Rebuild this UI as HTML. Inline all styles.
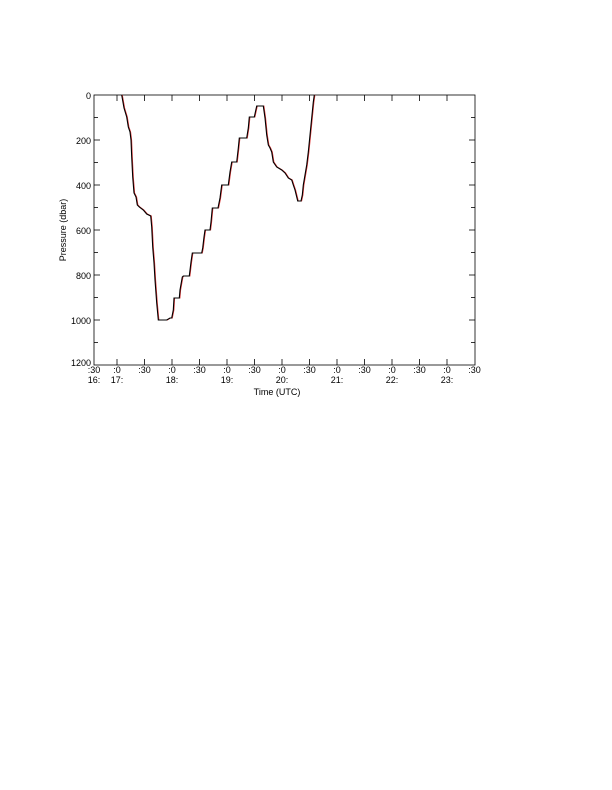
<!DOCTYPE html>
<html><head><meta charset="utf-8"><style>
html,body{margin:0;padding:0;background:#fff;}
svg text{font-family:"Liberation Sans",Arial,sans-serif;font-size:9px;fill:#000;}
</style></head><body>
<svg width="612" height="785" viewBox="0 0 612 785" xmlns="http://www.w3.org/2000/svg">
<rect x="0" y="0" width="612" height="785" fill="#fff"/>
<rect x="94" y="95" width="381" height="270" fill="none" stroke="#000" stroke-width="0.8"/>
<g stroke="#000" stroke-width="0.8" id="ticks"></g>
<g text-anchor="end">
<text x="91" y="99">0</text><text x="91" y="144">200</text><text x="91" y="189">400</text>
<text x="91" y="234">600</text><text x="91" y="279">800</text><text x="91" y="324">1000</text>
<text x="91" y="366">1200</text>
</g>
<text transform="translate(66,230) rotate(-90)" text-anchor="middle">Pressure (dbar)</text>
<g text-anchor="middle" id="xl"></g>
<text x="277" y="395" text-anchor="middle">Time (UTC)</text>
<polyline fill="none" stroke="#d33" stroke-width="1" transform="translate(0.6,0)" points="121.7,95 124,108 126.7,117 128.3,127 130,132 131,140 131.7,157 132.7,177 134,193 136,197 137.3,205 139.3,207 143.3,210 146.7,214 150.7,216 151.7,227 152.7,247 154,263 155,280 156.7,303 158.3,320 166.7,320 170,318 171.7,318 173.3,310 174,298 179.3,298 180,290 182.3,277 183.3,276 189.3,276 191,262 192.3,253 201.7,253 202.7,248 204,237 205,230 210,230 211,222 212.3,208 218,208 220,198 221.7,185 228.3,185 230,172 231.7,162 236.7,162 238.3,148 239.3,138 246.7,138 248.3,128 249.3,117 254.3,117 256.7,106 263.3,106 265,118 266.7,135 268.3,145 270,148 271.7,152 273.3,162 276.7,167 281.7,170 285,173 288.3,178 291.7,180 293.3,185 295,190 297.7,201 301,201 302.3,195 303.3,185 305,175 306.7,165 308.3,152 310,135 311.7,118 313.3,102 314.3,95"/>
<polyline fill="none" stroke="#000" stroke-width="1.1" points="121.7,95 124,108 126.7,117 128.3,127 130,132 131,140 131.7,157 132.7,177 134,193 136,197 137.3,205 139.3,207 143.3,210 146.7,214 150.7,216 151.7,227 152.7,247 154,263 155,280 156.7,303 158.3,320 166.7,320 170,318 171.7,318 173.3,310 174,298 179.3,298 180,290 182.3,277 183.3,276 189.3,276 191,262 192.3,253 201.7,253 202.7,248 204,237 205,230 210,230 211,222 212.3,208 218,208 220,198 221.7,185 228.3,185 230,172 231.7,162 236.7,162 238.3,148 239.3,138 246.7,138 248.3,128 249.3,117 254.3,117 256.7,106 263.3,106 265,118 266.7,135 268.3,145 270,148 271.7,152 273.3,162 276.7,167 281.7,170 285,173 288.3,178 291.7,180 293.3,185 295,190 297.7,201 301,201 302.3,195 303.3,185 305,175 306.7,165 308.3,152 310,135 311.7,118 313.3,102 314.3,95"/>
<script>
var ns="http://www.w3.org/2000/svg",g=document.getElementById("ticks"),xl=document.getElementById("xl");
function ln(x1,y1,x2,y2){var l=document.createElementNS(ns,"line");l.setAttribute("x1",x1);l.setAttribute("y1",y1);l.setAttribute("x2",x2);l.setAttribute("y2",y2);g.appendChild(l);}
function tx(x,y,s){var t=document.createElementNS(ns,"text");t.setAttribute("x",x);t.setAttribute("y",y);t.textContent=s;xl.appendChild(t);}
for(var i=1;i<12;i++){var y=95+i*22.5;var L=(i%2==0)?6:4;ln(94,y,94+L,y);ln(475,y,475-L,y);}
tx(94,373,":30");tx(94,383,"16:");
for(var k=0;k<14;k++){var x=117+27.5*k;if(k<13){ln(x,95,x,101);ln(x,365,x,359);}
tx(x,373,(k%2==0)?":0":":30");if(k%2==0)tx(x,383,(17+k/2)+":");}
</script>
</svg>
</body></html>
